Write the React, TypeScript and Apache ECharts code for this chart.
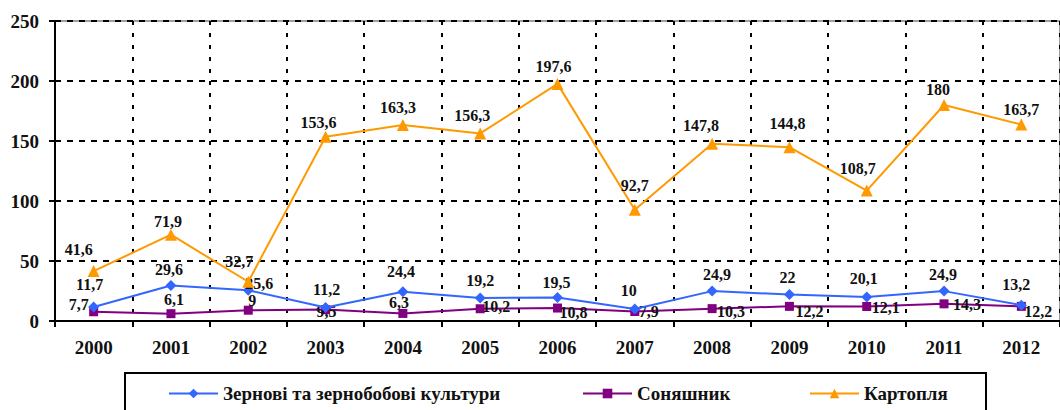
import React, { useEffect, useRef } from "react";
import * as echarts from "echarts";

const years = ["2000", "2001", "2002", "2003", "2004", "2005", "2006", "2007", "2008", "2009", "2010", "2011", "2012"];
const grain = [11.7, 29.6, 25.6, 11.2, 24.4, 19.2, 19.5, 10, 24.9, 22, 20.1, 24.9, 13.2];
const sunflower = [7.7, 6.1, 9, 9.5, 6.3, 10.2, 10.8, 7.9, 10.3, 12.2, 12.1, 14.3, 12.2];
const potato = [41.6, 71.9, 32.7, 153.6, 163.3, 156.3, 197.6, 92.7, 147.8, 144.8, 108.7, 180, 163.7];
const seriesNames = ["Зернові та зернобобові культури", "Соняшник", "Картопля"];

// label offsets (styling, relative to point centre)
const grainLabelOffsets = [[-4, -22], [-2, -16], [11, -7], [1, -18], [-2, -20], [0, -17], [-1, -15], [-6, -19], [5, -17], [-2, -17], [-3, -18], [-1, -17], [-5, -21]];
const sunLabelOffsets = [[-15, -7], [3, -14], [4, -10], [1, 2], [-4, -11], [16, -2], [16, 4], [14, 0], [19, 3], [20, 5], [19, 1], [23, 1], [17, 5]];
const potatoLabelOffsets = [[-15, -22], [-3, -13], [-9, -20], [-7, -14], [-5, -18], [-8, -18], [-4, -17], [0, -24], [-11, -18], [-2, -24], [-9, -22], [-6, -16], [0, -15]];

const FONT = "Liberation Serif, Times New Roman, serif";

export default function App() {
  const ref = useRef<HTMLDivElement>(null);
  useEffect(() => {
    if (!ref.current) return;
    const chart = echarts.init(ref.current, undefined, { renderer: "svg" });
    const fmt = (p: any) => String(p.value).replace(".", ",");
    const mk = (vals: number[], offs: number[][]) =>
      vals.map((v, i) => ({ value: v, label: { offset: offs[i] } }));
    const labelBase = {
      show: true,
      position: "inside",
      formatter: fmt,
      color: "#111",
      fontFamily: FONT,
      fontWeight: "bold",
      fontSize: 16,
    };
    const legendBase = {
      orient: "horizontal",
      top: 384,
      padding: 0,
      itemWidth: 49,
      itemHeight: 12,
      itemGap: 6,
      textStyle: { fontFamily: FONT, fontWeight: "bold", fontSize: 19, color: "#111" },
    };
    chart.setOption({
      animation: false,
      backgroundColor: "#fff",
      textStyle: { fontFamily: FONT },
      grid: {
        left: 55,
        right: -2,
        top: 21,
        height: 300,
        show: true,
        borderColor: "#a0a0a0",
        borderWidth: 2,
        backgroundColor: "transparent",
      },
      legend: [
        { ...legendBase, left: 168, data: [seriesNames[0]] },
        { ...legendBase, left: 582, data: [seriesNames[1]] },
        { ...legendBase, left: 809, data: [seriesNames[2]] },
      ],
      graphic: [
        {
          type: "rect",
          shape: { x: 125, y: 373, width: 861, height: 60 },
          style: { fill: "none", stroke: "#000", lineWidth: 2 },
          z: 10,
        },
      ],
      xAxis: {
        type: "category",
        data: years,
        boundaryGap: true,
        axisLine: { lineStyle: { color: "#000", width: 2 } },
        axisTick: { show: true, length: 6, lineStyle: { color: "#000", width: 2 } },
        axisLabel: { fontFamily: FONT, fontWeight: "bold", fontSize: 19, color: "#111", margin: 17 },
        splitLine: { show: true, lineStyle: { color: "#000", width: 2, type: [4, 8] } },
      },
      yAxis: {
        type: "value",
        min: 0,
        max: 250,
        interval: 50,
        axisLine: { show: true, lineStyle: { color: "#000", width: 2 } },
        axisTick: { show: true, length: 6, lineStyle: { color: "#000", width: 2 } },
        axisLabel: { fontFamily: FONT, fontWeight: "bold", fontSize: 19, color: "#111", margin: 16 },
        splitLine: { show: true, lineStyle: { color: "#000", width: 2, type: [6, 6] } },
      },
      series: [
        {
          name: seriesNames[0],
          type: "line",
          data: mk(grain, grainLabelOffsets),
          symbol: "diamond",
          symbolSize: 11,
          lineStyle: { color: "#3366ff", width: 2 },
          itemStyle: { color: "#3366ff" },
          label: labelBase,
          z: 4,
        },
        {
          name: seriesNames[1],
          type: "line",
          data: mk(sunflower, sunLabelOffsets),
          symbol: "rect",
          symbolSize: 9,
          lineStyle: { color: "#800080", width: 2 },
          itemStyle: { color: "#800080" },
          label: labelBase,
          z: 3,
        },
        {
          name: seriesNames[2],
          type: "line",
          data: mk(potato, potatoLabelOffsets),
          symbol: "triangle",
          symbolSize: 12,
          lineStyle: { color: "#ff9900", width: 2 },
          itemStyle: { color: "#ff9900" },
          label: labelBase,
          z: 5,
        },
      ],
    });
    return () => chart.dispose();
  }, []);
  return <div ref={ref} style={{ width: 1060, height: 410, position: "absolute", left: 0, top: 0 }} />;
}
